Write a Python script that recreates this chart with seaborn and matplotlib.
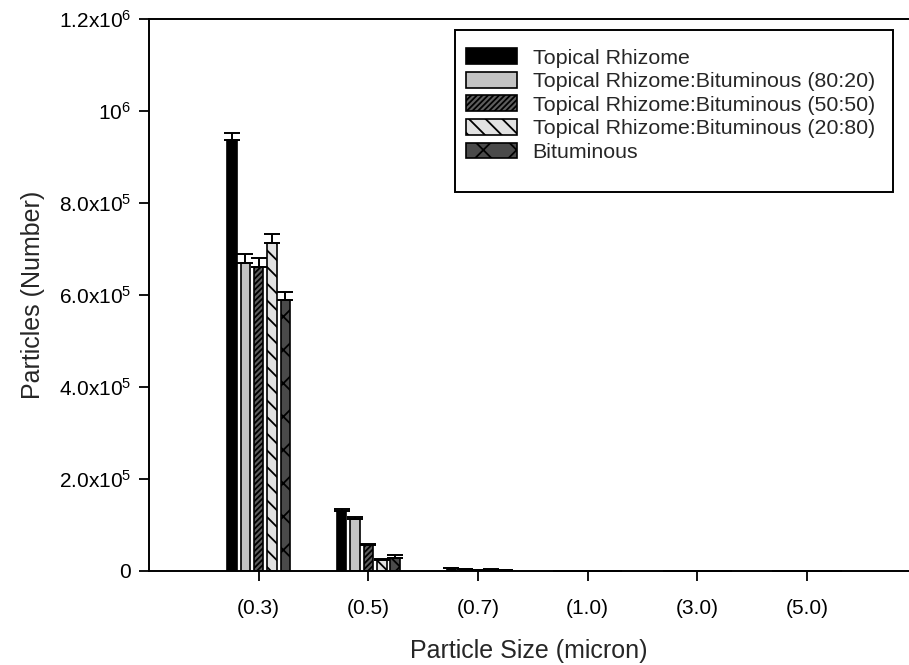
import matplotlib
matplotlib.use("Agg")
import matplotlib.pyplot as plt
import matplotlib.patches as mpatches
import numpy as np
import pandas as pd
import seaborn as sns

# Particle size classes (micron)
sizes = ["(0.3)", "(0.5)", "(0.7)", "(1.0)", "(3.0)", "(5.0)"]

# Series names
series = [
    "Topical Rhizome",
    "Topical Rhizome:Bituminous (80:20)",
    "Topical Rhizome:Bituminous (50:50)",
    "Topical Rhizome:Bituminous (20:80)",
    "Bituminous",
]

# Mean particle counts per size class
rhizome = [938000, 131000, 5500, 600, 150, 50]
rb_80_20 = [670000, 114000, 4500, 500, 120, 40]
rb_50_50 = [661000, 56000, 2500, 300, 80, 30]
rb_20_80 = [713000, 23000, 3000, 250, 70, 20]
bituminous = [589000, 29000, 2000, 200, 60, 20]

# Standard deviations (upper error bars)
rhizome_err = [15000, 3000, 500, 100, 40, 20]
rb_80_20_err = [19000, 4000, 400, 100, 40, 20]
rb_50_50_err = [19000, 3000, 300, 80, 30, 10]
rb_20_80_err = [20000, 3000, 300, 80, 30, 10]
bituminous_err = [18000, 5000, 300, 80, 30, 10]

# y-axis tick labels
ytick_values = [0, 2e5, 4e5, 6e5, 8e5, 1e6, 1.2e6]
ytick_labels = ["0", r"$\mathregular{2.0x10^5}$", r"$\mathregular{4.0x10^5}$",
                r"$\mathregular{6.0x10^5}$", r"$\mathregular{8.0x10^5}$",
                r"$\mathregular{10^6}$", r"$\mathregular{1.2x10^6}$"]

means = [rhizome, rb_80_20, rb_50_50, rb_20_80, bituminous]
errs = [rhizome_err, rb_80_20_err, rb_50_50_err, rb_20_80_err, bituminous_err]

df = pd.DataFrame({
    "size": np.tile(sizes, len(series)),
    "series": np.repeat(series, len(sizes)),
    "count": np.concatenate(means),
})

sns.set_theme(style="ticks")
plt.rcParams["font.family"] = ["Liberation Sans", "DejaVu Sans"]
plt.rcParams["mathtext.fontset"] = "custom"
plt.rcParams["mathtext.rm"] = "Liberation Sans"
plt.rcParams["hatch.linewidth"] = 1.3

fills = ["#000000", "#c4c4c4", "#5e5e5e", "#e2e2e2", "#4a4a4a"]
hatches = [None, None, "//////", "\\\\", "x"]

fig = plt.figure(figsize=(9.09, 6.65), dpi=100)
ax = fig.add_axes([0.164, 0.1414, 0.836, 0.83])

sns.barplot(data=df, x="size", y="count", hue="series", order=sizes,
            hue_order=series, palette=fills, width=0.61, gap=0.29,
            errorbar=None, edgecolor="black", linewidth=1.2,
            legend=False, ax=ax)

bar_groups = list(ax.containers)
for i, cont in enumerate(bar_groups):
    xs = []
    for bar in cont:
        if hatches[i]:
            bar.set_hatch(hatches[i])
        xs.append(bar.get_x() + bar.get_width() / 2)
    ax.errorbar(xs, means[i], yerr=[np.zeros(len(sizes)), errs[i]],
                fmt="none", ecolor="black", elinewidth=1.4, capsize=5.5,
                capthick=1.4, zorder=1)

ax.set_xlim(-1.0, 5.93)
ax.set_ylim(0, 1.2e6)
ax.set_yticks(ytick_values)
ax.set_yticklabels(ytick_labels)
ax.tick_params(axis="both", direction="out", length=7, width=1.3,
               labelsize=15, colors="black")
ax.tick_params(axis="y", pad=6)
ax.tick_params(axis="x", pad=13)
for side in ("left", "bottom", "top"):
    ax.spines[side].set_linewidth(1.4)
    ax.spines[side].set_color("black")
ax.spines["right"].set_visible(False)

ax.set_xlabel("Particle Size (micron)", fontsize=18, labelpad=15)
ax.set_ylabel("Particles (Number)", fontsize=18, labelpad=10)

handles = [mpatches.Patch(facecolor=fills[i], edgecolor="black", linewidth=1.2,
                          hatch=hatches[i]) for i in range(len(series))]
leg = ax.legend(handles, series, loc="upper left",
                bbox_to_anchor=(0.417, 0.947), frameon=False, fontsize=15.4,
                handlelength=2.4, handleheight=0.75, handletextpad=0.72,
                labelspacing=0.2, borderaxespad=0, borderpad=0)

# Legend frame
frame = mpatches.Rectangle((455 / 909, 1 - 192 / 665), (893 - 455) / 909,
                           (192 - 30) / 665, transform=fig.transFigure,
                           fill=False, edgecolor="black", linewidth=1.4)
fig.add_artist(frame)

fig.savefig("out.png", dpi=100)
